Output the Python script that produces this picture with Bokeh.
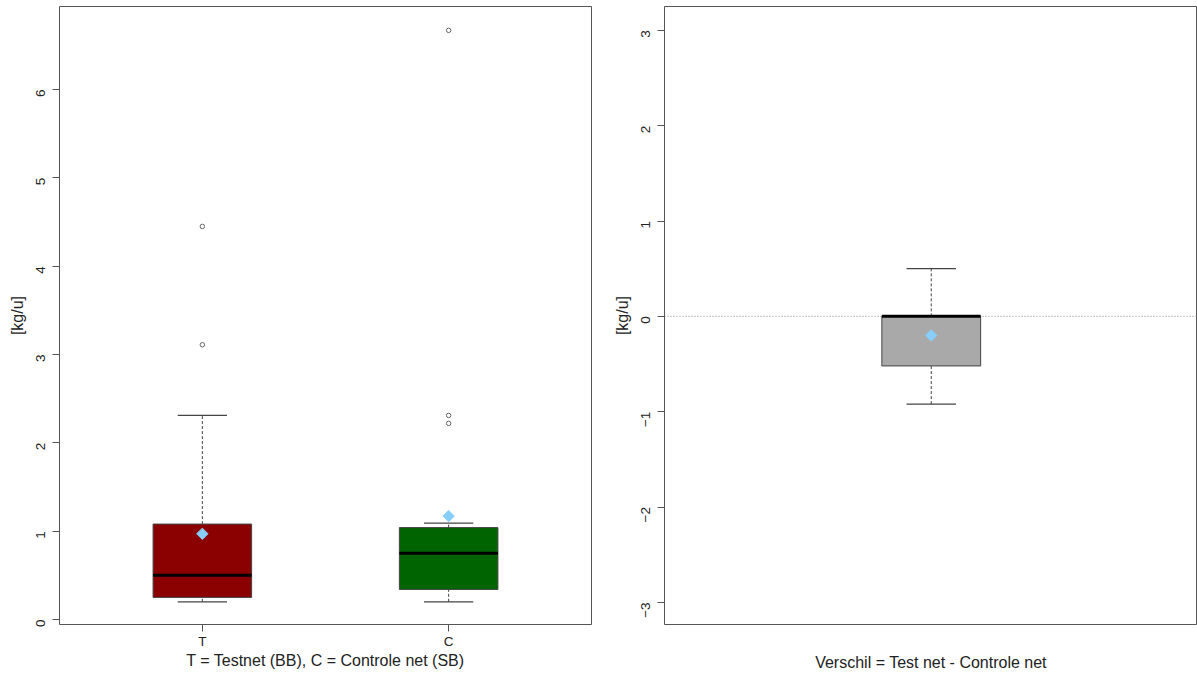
import math
from bokeh.plotting import figure
from bokeh.models import Range1d, FixedTicker, Span
from bokeh.layouts import row
from bokeh.embed import file_html
from bokeh.resources import INLINE

# ---- data ----
groups = ["T", "C"]
group_pos = [1, 2]
whisker_lo = [0.20, 0.20]
q1 = [0.25, 0.34]
median = [0.50, 0.75]
q3 = [1.08, 1.04]
whisker_hi = [2.31, 1.09]
means = [0.97, 1.17]
outliers_T = [3.11, 4.45]
outliers_C = [2.22, 2.31, 6.67]
box_colors = ["#8B0000", "#006400"]

diff_pos = [1]
diff_lo = [-0.92]
diff_q1 = [-0.52]
diff_med = [0.0]
diff_q3 = [0.0]
diff_hi = [0.50]
diff_mean = [-0.20]
diff_color = "#A9A9A9"

left_ticks = [0, 1, 2, 3, 4, 5, 6]
right_ticks = [-3, -2, -1, 0, 1, 2, 3]

FONT = "Liberation Sans"
TXT = "#222222"
OUTLINE = "#555555"
BOXLINE = "#444444"
MEAN_COLOR = "#87CEFA"


def style(p, yticks):
    p.grid.visible = False
    p.outline_line_color = OUTLINE
    p.outline_line_width = 1
    p.background_fill_color = "white"
    p.border_fill_color = "white"
    ya = p.yaxis[0]
    ya.ticker = FixedTicker(ticks=yticks)
    ya.axis_line_color = None
    ya.major_tick_line_color = OUTLINE
    ya.major_tick_out = 7
    ya.major_tick_in = 0
    ya.minor_tick_line_color = None
    ya.major_label_orientation = math.pi / 2
    ya.major_label_standoff = 12
    ya.major_label_text_font = FONT
    ya.major_label_text_font_size = "13.5px"
    ya.major_label_text_color = TXT
    ya.axis_label = "[kg/u]"
    ya.axis_label_text_font = FONT
    ya.axis_label_text_font_size = "16px"
    ya.axis_label_text_font_style = "normal"
    ya.axis_label_text_color = TXT
    ya.axis_label_standoff = 3
    xa = p.xaxis[0]
    xa.axis_line_color = None
    xa.minor_tick_line_color = None
    xa.major_label_text_font = FONT
    xa.major_label_text_font_size = "13.5px"
    xa.major_label_text_color = TXT
    xa.axis_label_text_font = FONT
    xa.axis_label_text_font_size = "16px"
    xa.axis_label_text_font_style = "normal"
    xa.axis_label_text_color = TXT


def draw_boxes(p, xs, lo, b1, med, b3, hi, mn, colors, box_w, cap_w):
    p.segment(x0=xs, y0=b3, x1=xs, y1=hi, line_color=BOXLINE, line_dash="3 2", line_width=1)
    p.segment(x0=xs, y0=lo, x1=xs, y1=b1, line_color=BOXLINE, line_dash="3 2", line_width=1)
    p.segment(x0=[x - cap_w / 2 for x in xs], y0=hi, x1=[x + cap_w / 2 for x in xs], y1=hi,
              line_color=BOXLINE, line_width=1.2)
    p.segment(x0=[x - cap_w / 2 for x in xs], y0=lo, x1=[x + cap_w / 2 for x in xs], y1=lo,
              line_color=BOXLINE, line_width=1.2)
    p.vbar(x=xs, width=box_w, bottom=b1, top=b3, fill_color=colors, line_color=BOXLINE, line_width=1)
    p.segment(x0=[x - box_w / 2 for x in xs], y0=med, x1=[x + box_w / 2 for x in xs], y1=med,
              line_color="black", line_width=3)
    p.scatter(x=xs, y=mn, marker="square", angle=math.pi / 4, size=8,
              fill_color=MEAN_COLOR, line_color=MEAN_COLOR)


# ---- left figure ----
p1 = figure(width=600, height=680, output_backend="svg", toolbar_location=None,
            x_range=Range1d(0.42, 2.58), y_range=Range1d(-0.057, 6.94),
            min_border_left=59, min_border_right=9, min_border_top=6, min_border_bottom=56)
style(p1, left_ticks)
p1.xaxis[0].ticker = FixedTicker(ticks=group_pos)
p1.xaxis[0].major_label_overrides = {pos: g for pos, g in zip(group_pos, groups)}
p1.xaxis[0].major_tick_line_color = OUTLINE
p1.xaxis[0].major_tick_out = 7
p1.xaxis[0].major_tick_in = 0
p1.xaxis[0].major_label_standoff = 2
p1.xaxis[0].axis_label = "T = Testnet (BB), C = Controle net (SB)"
p1.xaxis[0].axis_label_standoff = 0

draw_boxes(p1, group_pos, whisker_lo, q1, median, q3, whisker_hi, means, box_colors, 0.4, 0.2)
p1.scatter(x=[group_pos[0]] * len(outliers_T), y=outliers_T, marker="circle", size=4.5,
           fill_color=None, line_color="#666666")
p1.scatter(x=[group_pos[1]] * len(outliers_C), y=outliers_C, marker="circle", size=4.5,
           fill_color=None, line_color="#666666")

# ---- right figure ----
p2 = figure(width=597, height=680, output_backend="svg", toolbar_location=None,
            x_range=Range1d(0.46, 1.539), y_range=Range1d(-3.232, 3.25),
            min_border_left=64, min_border_right=0, min_border_top=6, min_border_bottom=56)
style(p2, right_ticks)
p2.xaxis[0].ticker = FixedTicker(ticks=[])
p2.xaxis[0].major_tick_line_color = None
p2.xaxis[0].major_tick_out = 0
p2.xaxis[0].axis_label = "Verschil = Test net - Controle net"
p2.xaxis[0].axis_label_standoff = 29

p2.add_layout(Span(location=0, dimension="width", line_color="#888888", line_dash="1 2",
                   line_width=1, level="underlay"))
draw_boxes(p2, diff_pos, diff_lo, diff_q1, diff_med, diff_q3, diff_hi, diff_mean, [diff_color], 0.2, 0.1)

layout = row(p1, p2)
open("out.html", "w").write(file_html(layout, INLINE))
